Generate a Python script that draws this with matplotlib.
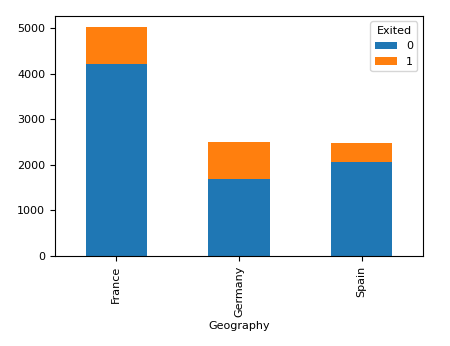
import matplotlib
matplotlib.use("Agg")
import matplotlib.pyplot as plt
import numpy as np

geography = ["France", "Germany", "Spain"]
stayed = [4204, 1695, 2064]
exited = [810, 814, 413]

fig = plt.figure(figsize=(4.5, 3.46), dpi=100)
ax = fig.add_axes([0.122, 0.26, 0.818, 0.694])

x = np.arange(len(geography))
ax.bar(x, stayed, width=0.5, color="#1f77b4", label="0")
ax.bar(x, exited, width=0.5, bottom=stayed, color="#ff7f0e", label="1")

fs = 8
ax.set_xticks(x)
ax.set_xticklabels(geography, rotation=90, fontsize=fs)
ax.set_xlim(-0.5, len(geography) - 0.5)
ax.set_ylim(0, 5014 * 1.05)
ax.set_yticks([0, 1000, 2000, 3000, 4000, 5000])
ax.tick_params(axis="y", labelsize=fs)
ax.set_xlabel("Geography", fontsize=fs, labelpad=3)
ax.legend(title="Exited", fontsize=fs, title_fontsize=fs, loc="upper right")

fig.savefig("out.png", dpi=100)
